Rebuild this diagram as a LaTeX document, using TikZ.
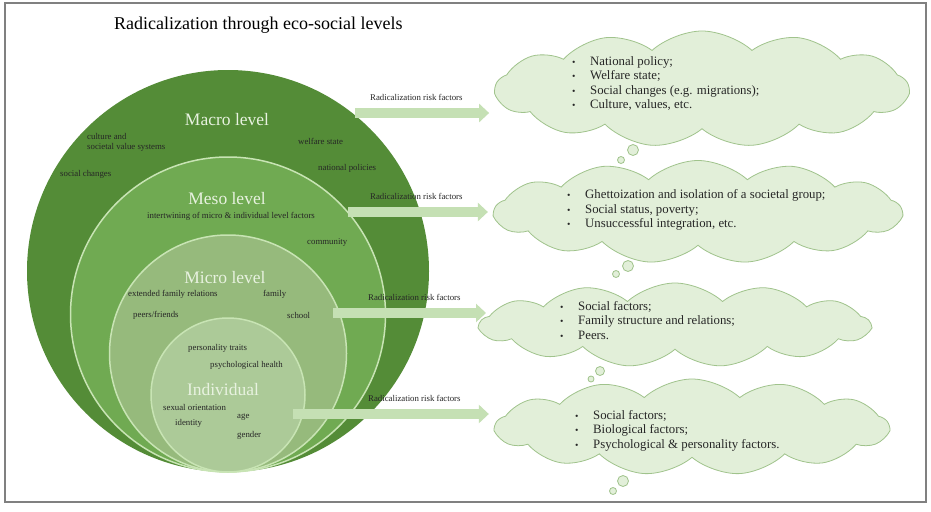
\documentclass[tikz,border=0pt]{standalone}
\usepackage{fontspec}
\setmainfont{Liberation Serif}
\usetikzlibrary{shapes.symbols,arrows.meta}
\definecolor{macrog}{RGB}{84,140,55}
\definecolor{mesog}{RGB}{112,170,82}
\definecolor{microg}{RGB}{150,186,124}
\definecolor{indivg}{RGB}{172,202,152}
\definecolor{ringg}{RGB}{200,228,180}
\definecolor{lvltext}{RGB}{232,242,224}
\definecolor{arrowg}{RGB}{197,224,180}
\definecolor{cloudfill}{RGB}{226,239,217}
\definecolor{cloudedge}{RGB}{160,195,140}
\newcommand\cbul{\makebox[18pt][l]{\scalebox{0.75}{\textbullet}}}
\tikzset{
  ring/.style={circle, inner sep=0pt, draw=ringg, line width=1.5pt},
  lvl/.style={font=\fontsize{17.5}{20}\selectfont, text=lvltext, inner sep=0pt},
  tiny/.style={font=\fontsize{8.8}{10}\selectfont, text=black!85, anchor=west, inner sep=0pt},
  risklbl/.style={font=\fontsize{8.8}{10}\selectfont, text=black!85, anchor=west, inner sep=0pt},
  riskarrow/.style={draw=arrowg, line width=10pt, -{Triangle[length=10pt,width=18pt]}, shorten >=5pt},
  cloudbox/.style={cloud, cloud puffs=13, cloud puff arc=85, cloud ignores aspect, draw=cloudedge, fill=cloudfill, line width=0.8pt, inner sep=0pt},
  bubble/.style={circle, draw=cloudedge, fill=cloudfill, line width=0.8pt, inner sep=0pt},
  cloudtext/.style={font=\fontsize{12.8}{14.5}\selectfont, anchor=north west, align=left, inner sep=0pt, text=black!85}
}
\begin{document}
\begin{tikzpicture}[x=1pt,y=-1pt]
\useasboundingbox (0,0) rectangle (931,511);
\fill[white] (0,0) rectangle (931,511);
\draw[gray, line width=1.2pt] (5,3) rectangle (926,502);
\node[anchor=west, inner sep=0pt, font=\fontsize{18}{20}\selectfont] (title) at (114,25) {Radicalization through eco-social levels};
% circles
\node[circle, inner sep=0pt, fill=macrog, minimum size=402pt] (macro) at (228,271) {};
\node[ring, fill=mesog, minimum size=315pt] (meso) at (228,314.5) {};
\node[ring, fill=microg, minimum size=237pt] (micro) at (228,353.5) {};
\node[ring, fill=indivg, minimum size=154pt] (indiv) at (228,395) {};
% level labels
\node[lvl] (macrolbl) at (227,120) {Macro level};
\node[lvl] (mesolbl) at (227,199) {Meso level};
\node[lvl] (microlbl) at (225,278) {Micro level};
\node[lvl] (indivlbl) at (223,390) {Individual};
% macro labels
\node[tiny, align=left] (cult) at (87,142) {culture and\\societal value systems};
\node[tiny] (welf) at (298,141) {welfare state};
\node[tiny] (natp) at (318,168) {national policies};
\node[tiny] (socch) at (60,174) {social changes};
% meso labels
\node[tiny] (intertw) at (147,216) {intertwining of micro \& individual level factors};
\node[tiny] (comm) at (307,243) {community};
% micro labels
\node[tiny] (extfam) at (128,294) {extended family relations};
\node[tiny] (fam) at (263,294) {family};
\node[tiny] (peers) at (133,315) {peers/friends};
\node[tiny] (school) at (287,315) {school};
% individual labels
\node[tiny] (pers) at (188,348) {personality traits};
\node[tiny] (psych) at (210,365) {psychological health};
\node[tiny] (sexo) at (163,407) {sexual orientation};
\node[tiny] (ident) at (175,423) {identity};
\node[tiny] (age) at (237,417) {age};
\node[tiny] (gender) at (237,435) {gender};
% clouds
\node[cloudbox, minimum width=413pt, minimum height=116pt] (c1) at (702,89) {};
\node[bubble, minimum size=11pt] (c1b1) at (633,150) {};
\node[bubble, minimum size=7pt] (c1b2) at (621,160) {};
\node[cloudbox, minimum width=407pt, minimum height=103pt] (c2) at (698,212) {};
\node[bubble, minimum size=11pt] (c2b1) at (628,266) {};
\node[bubble, minimum size=7pt] (c2b2) at (616,274) {};
\node[cloudbox, minimum width=390pt, minimum height=84pt] (c3) at (675,325) {};
\node[bubble, minimum size=9pt] (c3b1) at (600,371) {};
\node[bubble, minimum size=6pt] (c3b2) at (591,379) {};
\node[cloudbox, minimum width=393pt, minimum height=96pt] (c4) at (692,427) {};
\node[bubble, minimum size=11pt] (c4b1) at (623,481) {};
\node[bubble, minimum size=7pt] (c4b2) at (613,491) {};
% cloud texts
\node[cloudtext] (t1) at (572,56) {\cbul National policy;\\\cbul Welfare state;\\\cbul Social changes (e.g. migrations);\\\cbul Culture, values, etc.};
\node[cloudtext] (t2) at (567,189.5) {\cbul Ghettoization and isolation of a societal group;\\\cbul Social status, poverty;\\\cbul Unsuccessful integration, etc.};
\node[cloudtext] (t3) at (560,301) {\cbul Social factors;\\\cbul Family structure and relations;\\\cbul Peers.};
\node[cloudtext] (t4) at (575,410) {\cbul Social factors;\\\cbul Biological factors;\\\cbul Psychological \& personality factors.};
% arrows
\coordinate (a1) at (355,113);
\coordinate (a2) at (348,212);
\coordinate (a3) at (333,313);
\coordinate (a4) at (293,414);
\draw[riskarrow] (a1) -- (a1 -| c1.west);
\draw[riskarrow] (a2) -- (a2 -| c2.west);
\draw[riskarrow, shorten >=-8pt] (a3) -- (a3 -| c3.west);
\draw[riskarrow] (a4) -- (a4 -| c4.west);
\node[risklbl] (r1) at (370,97) {Radicalization risk factors};
\node[risklbl] (r2) at (370,196) {Radicalization risk factors};
\node[risklbl] (r3) at (368,297) {Radicalization risk factors};
\node[risklbl] (r4) at (368,398) {Radicalization risk factors};
\end{tikzpicture}
\end{document}
